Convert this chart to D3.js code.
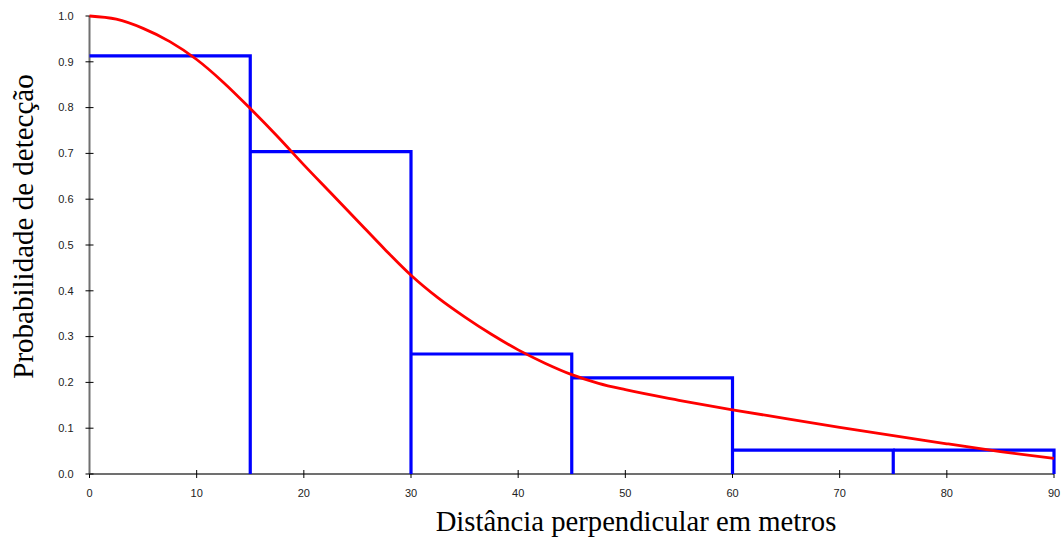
<!DOCTYPE html>
<html>
<head>
<meta charset="utf-8">
<script src="https://cdn.jsdelivr.net/npm/d3@7"></script>
<style>
  body { margin: 0; background: #fff; }
  svg { display: block; }
</style>
</head>
<body>
<svg id="chart" width="1062" height="543"></svg>
<script>
// --- Data
const binEdges = [0, 15, 30, 45, 60, 75, 90]
const binValues = [0.913, 0.704, 0.262, 0.21, 0.052, 0.052]

const curveX = [0, 2.5, 5, 7.5, 10, 12.5, 15, 17.5, 20, 22.5, 25, 27.5, 30, 32.5, 35, 37.5, 40, 42.5, 45, 47.5, 50, 55, 60, 65, 70, 75, 80, 85, 90]
const curveY = [1.0, 0.993, 0.973, 0.944, 0.905, 0.855, 0.798, 0.738, 0.675, 0.614, 0.553, 0.492, 0.434, 0.385, 0.343, 0.305, 0.271, 0.242, 0.217, 0.198, 0.184, 0.161, 0.14, 0.121, 0.102, 0.084, 0.066, 0.049, 0.034]

const xTicks = [0, 10, 20, 30, 40, 50, 60, 70, 80, 90]
const yTicks = [0, 0.1, 0.2, 0.3, 0.4, 0.5, 0.6, 0.7, 0.8, 0.9, 1.0]

const xTitle = "Distância perpendicular em metros"
const yTitle = "Probabilidade de detecção"

// --- Setup
const svg = d3.select("#chart")
const x = d3.scaleLinear().domain([0, 90]).range([89.5, 1054])
const y = d3.scaleLinear().domain([0, 1]).range([474, 16])

// axes: gray line, black ticks crossing the line
const xAxis = svg.append("g").attr("transform", `translate(0,${y(0)})`)
xAxis.append("line")
    .attr("x1", x(0)).attr("x2", x(90))
    .attr("stroke", "#707070").attr("stroke-width", 2)
xAxis.selectAll(".tick").data(xTicks).join("line")
    .attr("x1", d => x(d)).attr("x2", d => x(d))
    .attr("y1", -4).attr("y2", 4)
    .attr("stroke", "#000").attr("stroke-width", 1)
xAxis.selectAll("text").data(xTicks).join("text")
    .attr("x", d => x(d)).attr("y", 23)
    .attr("text-anchor", "middle")
    .attr("font-family", "Liberation Sans, Arial, sans-serif")
    .attr("font-size", 11).attr("fill", "#222")
    .text(d => d)

const yAxis = svg.append("g").attr("transform", `translate(${x(0)},0)`)
yAxis.append("line")
    .attr("y1", y(0)).attr("y2", y(1))
    .attr("stroke", "#707070").attr("stroke-width", 2)
yAxis.selectAll(".tick").data(yTicks).join("line")
    .attr("y1", d => y(d)).attr("y2", d => y(d))
    .attr("x1", -4).attr("x2", 4)
    .attr("stroke", "#000").attr("stroke-width", 1)
yAxis.selectAll("text").data(yTicks).join("text")
    .attr("x", -16).attr("y", d => y(d)).attr("dy", "0.35em")
    .attr("text-anchor", "end")
    .attr("font-family", "Liberation Sans, Arial, sans-serif")
    .attr("font-size", 11).attr("fill", "#222")
    .text(d3.format(".1f"))

// histogram outline: top and right side of each bin (left side is covered by the previous one)
const bins = binValues.map((v, i) => ({ x0: binEdges[i], x1: binEdges[i + 1], v }))
svg.append("g").selectAll("path").data(bins).join("path")
    .attr("d", b => `M${x(b.x0)},${y(b.v)}H${x(b.x1)}V${y(0)}`)
    .attr("fill", "none")
    .attr("stroke", "#0000ff")
    .attr("stroke-width", 3.2)

// fitted detection curve
const pts = curveX.map((d, i) => [d, curveY[i]])
svg.append("path")
    .datum(pts)
    .attr("d", d3.line().x(d => x(d[0])).y(d => y(d[1])).curve(d3.curveMonotoneX))
    .attr("fill", "none")
    .attr("stroke", "#ff0000")
    .attr("stroke-width", 2.8)

// titles
svg.append("text")
    .attr("x", 636).attr("y", 531)
    .attr("text-anchor", "middle")
    .attr("font-family", "Liberation Serif, Times New Roman, serif")
    .attr("font-size", 28.7)
    .text(xTitle)

svg.append("text")
    .attr("transform", "translate(33,226.5) rotate(-90)")
    .attr("text-anchor", "middle")
    .attr("font-family", "Liberation Serif, Times New Roman, serif")
    .attr("font-size", 29)
    .text(yTitle)
</script>
</body>
</html>
